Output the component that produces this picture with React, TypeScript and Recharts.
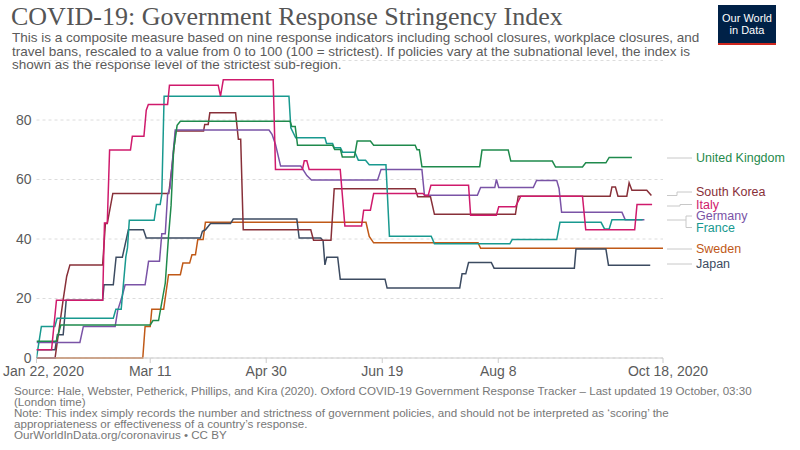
import React from "react";
import { LineChart, Line, XAxis, YAxis, CartesianGrid } from "recharts";

// days since Jan 22, 2020 -> stringency index
const unitedKingdom: [number, number][] = [
  [0, 5.6], [8.5, 5.6], [10.5, 11.1], [49, 11.1], [50.2, 12.6], [52.6, 12.6], [55.5, 25.2],
  [56.9, 40.9], [58, 51.3], [59.1, 69.9], [60.6, 78.2], [62, 79.6], [109.3, 79.6], [110, 77.8],
  [111.5, 77.8], [112.5, 71.5], [127.6, 71.5], [128.5, 70.1], [131, 70.1], [131.8, 67.6],
  [137, 67.6], [138.2, 72.9], [143.9, 72.9], [145.3, 71.5], [163.2, 71.5], [164, 70], [165, 70],
  [166.1, 64.3], [191, 64.3], [192, 69.9], [203.3, 69.9], [204.4, 66.2], [222.3, 66.2],
  [223.7, 64.2], [235.3, 64.2], [236.7, 65.6], [245.4, 65.6], [246.8, 67.4], [256.6, 67.4],
];
const southKorea: [number, number][] = [
  [0, 0], [8, 0], [11.5, 19.6], [13, 27.4], [14.4, 31.3], [28.5, 31.3], [29.7, 45.2], [30.5, 45.2],
  [32.9, 55.3], [57, 55.3], [58.5, 65], [60, 76.3], [72, 76.3], [72.5, 78.5], [74, 78.5],
  [74.7, 82.4], [85.8, 82.4], [87, 73.5], [88, 73.5], [89.1, 43.1], [118.2, 43.1], [119.4, 39.6],
  [126.9, 39.6], [128.3, 56.9], [163.2, 56.9], [164.3, 54.2], [169.8, 54.2], [171.5, 48.3],
  [206.4, 48.3], [207.6, 54.4], [247.2, 54.4], [248, 57.5], [249.5, 57.5], [250.6, 54.4],
  [254.4, 54.4], [255.4, 58.9], [256.6, 56.4], [263, 56.4], [265, 54.6],
];
const italy: [number, number][] = [
  [0, 2.8], [6.5, 2.8], [8.6, 19.4], [28.5, 19.4], [29.3, 45.4], [30.5, 45.4], [31.5, 69.9],
  [40.5, 69.9], [41.3, 74.5], [46.3, 74.5], [47.3, 83.3], [48.2, 85.2], [56.5, 85.2], [57.3, 91.7],
  [78.3, 91.7], [79.3, 88], [80.5, 93.5], [102, 93.5], [103, 63.4], [114.6, 63.4], [115.4, 66.3],
  [116.5, 66.3], [117.5, 63.4], [130.9, 63.4], [132.9, 44.4], [140.1, 44.4], [141, 49.7],
  [143.9, 49.7], [145.3, 55.3], [166.5, 55.3], [167.5, 54.6], [168.8, 54.6], [170, 58.1],
  [186.2, 58.1], [187.1, 48], [198.2, 48], [199.2, 50.8], [206.4, 50.8], [208.7, 54.4],
  [235.3, 54.4], [236.7, 43.1], [257.8, 43.1], [258.8, 51.6], [265.3, 51.6],
];
const germany: [number, number][] = [
  [0, 5.2], [18.7, 5.2], [20.2, 10.6], [33.9, 10.6], [35, 16], [37, 21], [38.2, 24.6], [46.8, 24.6],
  [48.3, 32.5], [53, 32.5], [54, 41.8], [55.5, 41.8], [56.5, 55], [57.5, 57], [59.8, 76.6],
  [100.2, 76.6], [101.5, 75.2], [103, 71.8], [105.2, 64.5], [113.9, 64.5], [116.5, 61.3],
  [118.5, 59.8], [147, 59.8], [148.5, 63.4], [166.1, 63.4], [167.2, 54.7], [190, 54.7],
  [191.4, 57.3], [197.5, 57.3], [198.2, 60], [199.2, 57.3], [214.1, 57.3], [215.5, 59.7],
  [224.2, 59.7], [225.2, 57], [226.3, 49], [252.3, 49], [253.7, 46.5], [262, 46.5],
];
const france: [number, number][] = [
  [0, 0], [2.1, 10.6], [7.9, 10.6], [8.9, 13.4], [33.1, 13.4], [34.2, 16.4], [36.5, 16.4],
  [38.5, 34], [39.2, 37], [40, 46.3], [50.7, 46.3], [51.7, 51.6], [53.3, 51.6], [54, 55], [55, 88],
  [108.8, 88], [109.6, 77.4], [111.7, 74], [124.3, 74], [125, 72.1], [127.6, 72.1], [128.3, 70.7],
  [131, 70.7], [131.9, 69.2], [137.2, 69.2], [138.7, 66.5], [141.8, 66.5], [143.4, 65],
  [150.6, 65], [152.1, 40.9], [170.1, 40.9], [171.5, 38.4], [204, 38.4], [205, 39.8],
  [224.2, 39.8], [225.6, 45.6], [243.3, 45.6], [244.8, 43.4], [246.8, 43.4], [248, 46.5],
  [261.2, 46.5],
];
const sweden: [number, number][] = [
  [0, 0], [45.8, 0], [46.8, 10.6], [49, 10.6], [49.7, 16.4], [54.8, 16.4], [56.9, 28], [62, 28],
  [63.1, 31.9], [66, 31.9], [67, 34.7], [68.5, 34.7], [69.5, 39.8], [71.8, 39.8], [72.8, 45.6],
  [142, 45.6], [143.4, 40.9], [145.3, 38.7], [190.3, 38.7], [191.4, 36.9], [270, 36.9],
];
const japan: [number, number][] = [
  [0, 2.8], [8, 2.8], [9, 7.8], [11.5, 7.8], [12.8, 19.4], [28.5, 19.4], [29.1, 24.6], [33.1, 24.6],
  [34.3, 33.9], [37, 33.9], [39.6, 43.1], [46.1, 43.1], [47.3, 40.3], [70.6, 40.3], [71.5, 42.6],
  [72.8, 43.1], [75, 45.2], [83.6, 45.2], [84.8, 46.7], [112.2, 46.7], [113.2, 40.3],
  [122.5, 40.3], [123.5, 39.5], [124.3, 31.3], [125.1, 33.9], [129.8, 33.9], [130.9, 26.5],
  [150.2, 26.5], [151.1, 23.5], [182.4, 23.5], [183.4, 28.3], [185, 28.3], [186.2, 32.1],
  [196, 32.1], [197.2, 30.2], [231.8, 30.2], [232.5, 36.6], [245.4, 36.6], [246.5, 31.2],
  [264.5, 31.2],
];

const xTicks = [0, 49, 99, 149, 199, 270];
const xTickLabels = ["Jan 22, 2020", "Mar 11", "Apr 30", "Jun 19", "Aug 8", "Oct 18, 2020"];
const yTicks = [0, 20, 40, 60, 80];

const series = [
  { name: "Sweden", points: sweden, color: "#c05917" },
  { name: "Japan", points: japan, color: "#3c4b61" },
  { name: "South Korea", points: southKorea, color: "#883039" },
  { name: "Germany", points: germany, color: "#7a53a6" },
  { name: "France", points: france, color: "#18998f" },
  { name: "United Kingdom", points: unitedKingdom, color: "#1f8a4c" },
  { name: "Italy", points: italy, color: "#cf1a6c" },
];

// label placement on the right (spread apart like OWID does)
const labels = [
  { name: "United Kingdom", y: 158, color: "#1f8a4c" },
  { name: "South Korea", y: 192, color: "#883039" },
  { name: "Italy", y: 204.5, color: "#cf1a6c" },
  { name: "Germany", y: 216, color: "#7a53a6" },
  { name: "France", y: 227.5, color: "#18998f" },
  { name: "Sweden", y: 249, color: "#c05917" },
  { name: "Japan", y: 264, color: "#3c4b61" },
];

const font = "'Liberation Sans', Arial, sans-serif";

const XTick = (props: any) => {
  const { x, y, payload, index } = props;
  const label = xTickLabels[xTicks.indexOf(payload.value)] ?? "";
  let anchor: "start" | "middle" = "middle";
  let tx = x;
  if (index === 0) {
    anchor = "start";
    tx = 3;
  } else if (payload.value === 270) {
    tx = x + 5;
  }
  return (
    <text x={tx} y={y + 11} textAnchor={anchor} fill="#5b5b5b" fontSize={14} fontFamily={font}>
      {label}
    </text>
  );
};

export default function App() {
  return (
    <div style={{ position: "absolute", left: 0, top: 0, width: 800, height: 450, background: "#fff", fontFamily: font }}>
      <div style={{ position: "absolute", left: 11, top: 2, fontFamily: "'Liberation Serif', 'Times New Roman', serif", fontSize: 26, color: "#555", whiteSpace: "nowrap" }}>
        COVID-19: Government Response Stringency Index
      </div>
      <div style={{ position: "absolute", left: 12, top: 31, width: 712, fontSize: 13.5, lineHeight: "13.5px", color: "#5b5b5b" }}>
        This is a composite measure based on nine response indicators including school closures, workplace closures, and travel bans, rescaled to a value from 0 to 100 (100 = strictest). If policies vary at the subnational level, the index is shown as the response level of the strictest sub-region.
      </div>
      <div style={{ position: "absolute", left: 718, top: 5, width: 58, height: 40, background: "#002147", borderBottom: "2px solid #ce261e", color: "#fff", fontSize: 11, lineHeight: "12px", textAlign: "center", paddingTop: 7, boxSizing: "border-box" }}>
        Our World<br />in Data
      </div>

      <LineChart width={800} height={450} data={[]} margin={{ top: 60.5, right: 137, left: 0.5, bottom: 0 }}>
        <CartesianGrid vertical={false} stroke="#dcdcdc" strokeDasharray="3 3" />
        <XAxis
          dataKey="day"
          type="number"
          domain={[0, 270]}
          ticks={xTicks}
          height={92}
          stroke="#ccc"
          tickSize={5}
          tickMargin={2}
          tick={<XTick />}
          interval={0}
          allowDataOverflow
        />
        <YAxis
          type="number"
          domain={[0, 100]}
          ticks={yTicks}
          width={36}
          axisLine={false}
          tickLine={false}
          tickSize={0}
          tickMargin={5}
          tick={{ fill: "#5b5b5b", fontSize: 14, fontFamily: font }}
        />
        {series.map((s) => (
          <Line
            key={s.name}
            data={s.points.map(([day, value]) => ({ day, value }))}
            dataKey="value"
            type="linear"
            stroke={s.color}
            strokeWidth={1.5}
            dot={false}
            isAnimationActive={false}
          />
        ))}
      </LineChart>

      <svg style={{ position: "absolute", left: 0, top: 0 }} width={800} height={450}>
        <g stroke="#c8c8c8" strokeWidth={1} fill="none">
          <path d="M667,158H692" />
          <path d="M667,195.5H677V192H692" />
          <path d="M667,206H680V204.5H692" />
          <path d="M667,220H686M686,216V227.5M686,216H692M686,227.5H692" />
          <path d="M667,249H692" />
          <path d="M667,264H692" />
        </g>
        {labels.map((l) => (
          <text key={l.name} x={696} y={l.y + 4.3} fill={l.color} fontSize={12.5} fontFamily={font}>
            {l.name}
          </text>
        ))}
      </svg>

      <div style={{ position: "absolute", left: 14, top: 385, fontSize: 11.6, lineHeight: "11px", color: "#777", whiteSpace: "nowrap" }}>
        Source: Hale, Webster, Petherick, Phillips, and Kira (2020). Oxford COVID-19 Government Response Tracker – Last updated 19 October, 03:30
        <br />
        (London time)
        <br />
        Note: This index simply records the number and strictness of government policies, and should not be interpreted as ‘scoring’ the
        <br />
        appropriateness or effectiveness of a country’s response.
        <br />
        OurWorldInData.org/coronavirus • CC BY
      </div>
    </div>
  );
}
